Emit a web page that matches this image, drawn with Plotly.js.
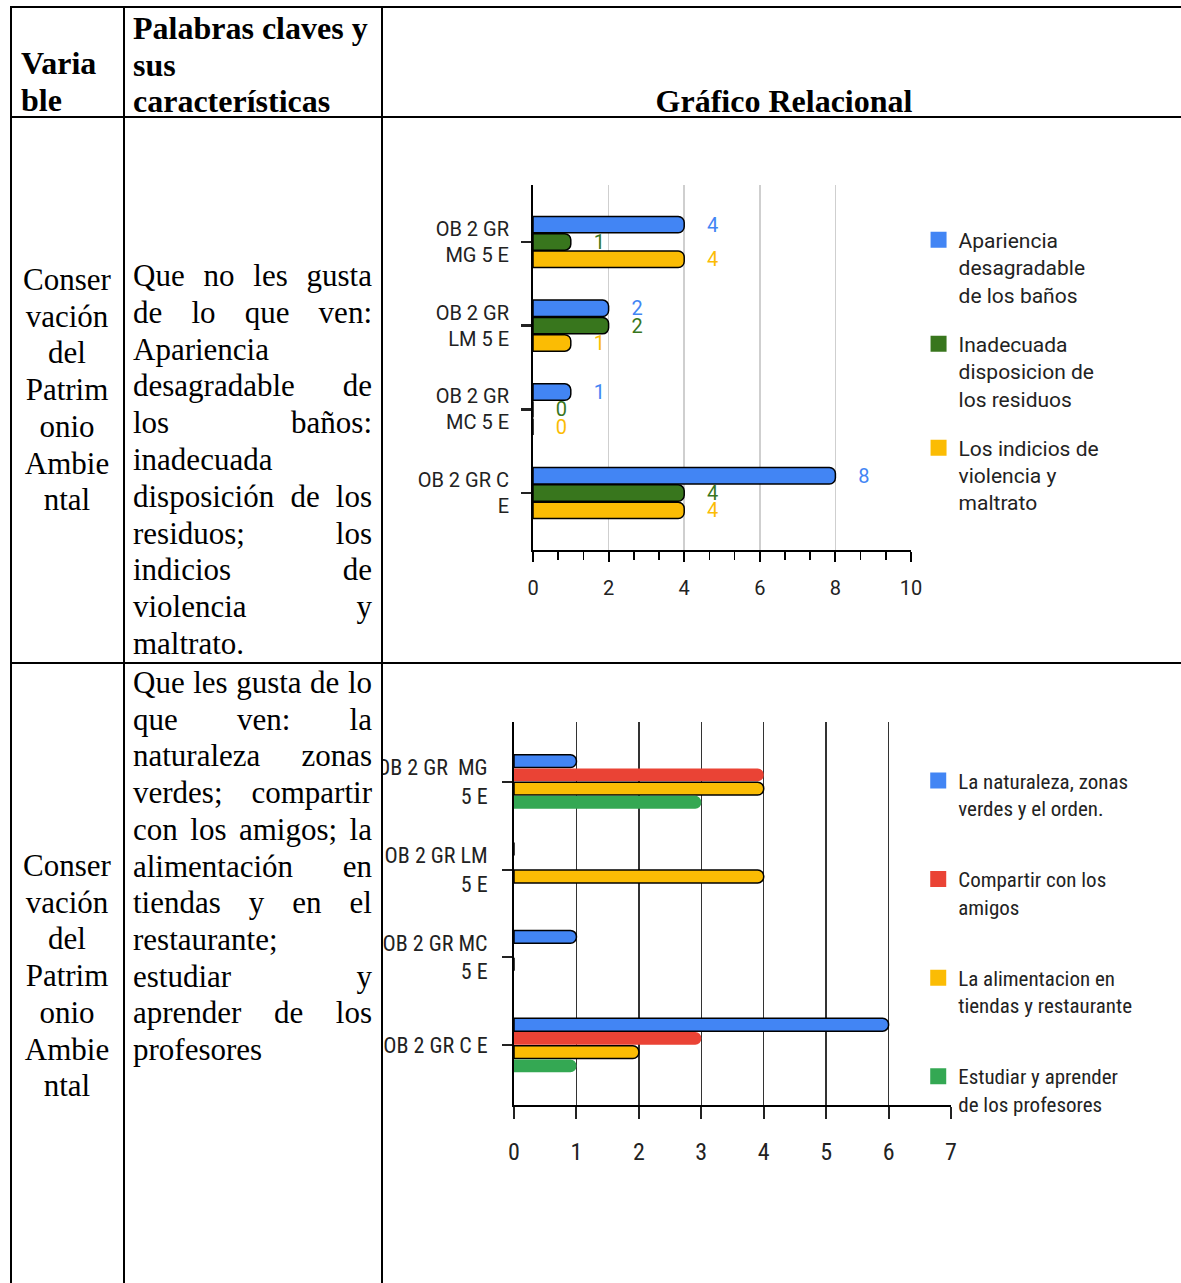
<!DOCTYPE html>
<html><head><meta charset="utf-8">
<script src="https://cdn.plot.ly/plotly-3.0.1.min.js"></script>
<style>
html,body{margin:0;padding:0;background:#fff;}
#page{position:relative;width:1181px;height:1283px;overflow:hidden;background:#fff;}
.ln{position:absolute;background:#000;}
.t{position:absolute;font-family:"Liberation Serif","Times New Roman",serif;font-size:31px;line-height:37px;color:#000;white-space:nowrap;}
.j{text-align:justify;text-align-last:justify;white-space:normal;}
.b{font-weight:bold;font-size:32px;}
.c{text-align:center;}
.ch{position:absolute;}
</style></head>
<body>
<div id="page">
  <div id="c1" class="ch" style="left:383px;top:119px;width:798px;height:543px;"></div>
  <div id="c2" class="ch" style="left:383px;top:665px;width:798px;height:618px;"></div>
</div>
<script>
// ---------- Chart 1 data ----------
const cats1 = ['OB 2 GR<br>MG 5 E', 'OB 2 GR<br>LM 5 E', 'OB 2 GR<br>MC 5 E', 'OB 2 GR C<br>E'];
const apariencia = [4, 2, 1, 8];
const inadecuada = [1, 2, 0, 4];
const indicios = [4, 1, 0, 4];
const names1 = ['Apariencia<br>desagradable<br>de los baños', 'Inadecuada<br>disposicion de<br>los residuos', 'Los indicios de<br>violencia y<br>maltrato'];
const xticks1 = [0, 2, 4, 6, 8, 10];

// ---------- Chart 2 data ----------
const cats2 = ['OB 2 GR  MG<br>5 E', 'OB 2 GR LM<br>5 E', 'OB 2 GR MC<br>5 E', 'OB 2 GR C E'];
const naturaleza = [1, 0, 1, 6];
const compartir = [4, 0, 0, 3];
const alimentacion = [4, 4, 0, 2];
const estudiar = [3, 0, 0, 1];
const names2 = ['La naturaleza, zonas<br>verdes y el orden.', 'Compartir con los<br>amigos', 'La alimentacion en<br>tiendas y restaurante', 'Estudiar y aprender<br>de los profesores'];
const xticks2 = [0, 1, 2, 3, 4, 5, 6, 7];

// ---------- Table text ----------
const headVar = ['Varia', 'ble'];
const headPal = ['Palabras claves y', 'sus', 'características'];
const headGraf = 'Gráfico Relacional';
const varWords = ['Conser', 'vación', 'del', 'Patrim', 'onio', 'Ambie', 'ntal'];
const text1 = [['Que no les gusta', 1], ['de lo que ven:', 1], ['Apariencia', 0], ['desagradable de', 1], ['los baños:', 1], ['inadecuada', 0], ['disposición de los', 1], ['residuos; los', 1], ['indicios de', 1], ['violencia y', 1], ['maltrato.', 0]];
const text2 = [['Que les gusta de lo', 1], ['que ven: la', 1], ['naturaleza zonas', 1], ['verdes; compartir', 1], ['con los amigos; la', 1], ['alimentación en', 1], ['tiendas y en el', 1], ['restaurante;', 0], ['estudiar y', 1], ['aprender de los', 1], ['profesores', 0]];

const page = document.getElementById('page');
function line(x, y, w, h) {
  const d = document.createElement('div');
  d.className = 'ln';
  d.style.left = x + 'px'; d.style.top = y + 'px'; d.style.width = w + 'px'; d.style.height = h + 'px';
  page.insertBefore(d, page.firstChild);
}
function txt(s, left, width, cy, cls) {
  const d = document.createElement('div');
  d.className = 't ' + cls;
  d.textContent = s;
  d.style.left = left + 'px'; d.style.width = width + 'px'; d.style.top = (cy - 20) + 'px';
  page.insertBefore(d, page.firstChild);
}
// borders
line(10, 6, 1171, 2);
line(10, 116, 1171, 2);
line(10, 662, 1171, 2);
line(10, 6, 2, 1277);
line(123, 6, 2, 1277);
line(381, 6, 2, 1277);
// header
txt(headVar[0], 21, 100, 65, 'b');
txt(headVar[1], 21, 100, 102, 'b');
headPal.forEach((s, i) => txt(s, 133, 245, 30 + i * 36.5, 'b'));
txt(headGraf, 385, 798, 103, 'b c');
// rows
varWords.forEach((s, i) => txt(s, 13, 108, 281 + i * 36.7, 'c'));
varWords.forEach((s, i) => txt(s, 13, 108, 867 + i * 36.7, 'c'));
text1.forEach((p, i) => txt(p[0], 133, 239, 277 + i * 36.8, p[1] ? 'j' : ''));
text2.forEach((p, i) => txt(p[0], 133, 239, 684 + i * 36.7, p[1] ? 'j' : ''));

// ---------- Chart 1 ----------
const col1 = ['#4285F4', '#38761D', '#FBBC04'];
const vals1 = [apariencia, inadecuada, indicios];
const nb = '\u00a0\u00a0\u00a0\u00a0';
const traces1 = [];
vals1.forEach((v, i) => {
  traces1.push({
    type: 'bar', orientation: 'h', y: cats1, x: v, name: names1[i], showlegend: false,
    marker: {color: col1[i], line: {color: '#000', width: 1.5}, cornerradius: 6},
    text: v.map(String), texttemplate: nb + '%{x}', textposition: 'outside', cliponaxis: false,
    constraintext: 'none', textfont: {color: col1[i], size: 20, family: 'Roboto'}, hoverinfo: 'skip'
  });
});
vals1.forEach((v, i) => {
  traces1.push({
    type: 'scatter', mode: 'markers', x: [null], y: [null], name: names1[i], legendgroup: 'g' + i,
    marker: {symbol: 'square', size: 16, color: col1[i]}, showlegend: true
  });
});
const minorTicks = {dtick: 2 / 3, tick0: 0, ticklen: 8, tickwidth: 1.5, tickcolor: '#000', showgrid: false};
const layout1 = {
  width: 798, height: 543,
  margin: {l: 150, r: 270, t: 66, b: 112, pad: 0},
  paper_bgcolor: 'rgba(0,0,0,0)', plot_bgcolor: 'rgba(0,0,0,0)',
  barmode: 'group', bargap: 0.38, bargroupgap: 0.05,
  font: {family: 'Roboto', size: 20, color: '#222'},
  showlegend: true,
  xaxis: {range: [0, 10], tickmode: 'array', tickvals: xticks1, showgrid: true, gridcolor: '#cfcfcf', gridwidth: 1.5,
    zeroline: false, showline: true, linecolor: '#000', linewidth: 2, ticks: 'outside', ticklen: 10, tickwidth: 2,
    tickcolor: '#000', ticklabelstandoff: 9, minor: Object.assign({ticks: 'outside'}, minorTicks), fixedrange: true},
  xaxis2: {overlaying: 'x', anchor: 'y', side: 'bottom', range: [0, 10], tickmode: 'array', tickvals: xticks1,
    showgrid: false, zeroline: false, showline: false, ticks: 'inside', ticklen: 10, tickwidth: 2, tickcolor: '#000',
    showticklabels: false, minor: Object.assign({ticks: 'inside'}, minorTicks), fixedrange: true},
  yaxis: {type: 'category', range: [3.68, -0.68], showgrid: false, zeroline: false, showline: true, linecolor: '#000',
    linewidth: 2, ticks: 'outside', ticklen: 10, tickwidth: 2.5, tickcolor: '#222', ticklabelstandoff: 8, fixedrange: true},
  legend: {x: 1.02, xanchor: 'left', y: 0.905, yanchor: 'top', valign: 'top', tracegroupgap: 19,
    bgcolor: 'rgba(0,0,0,0)', font: {family: 'Roboto', size: 21, color: '#222'}}
};
Plotly.newPlot('c1', traces1, layout1, {staticPlot: true, displayModeBar: false});

// ---------- Chart 2 ----------
const col2 = ['#4285F4', '#EA4335', '#FBBC04', '#34A853'];
const vals2 = [naturaleza, compartir, alimentacion, estudiar];
const outl2 = [1.5, 0, 1.5, 0];
const narrow = '"Liberation Sans Narrow", "Roboto Condensed", "DejaVu Sans Condensed", "Arial Narrow", Roboto, sans-serif';
const traces2 = [];
vals2.forEach((v, i) => {
  traces2.push({
    type: 'bar', orientation: 'h', y: cats2, x: v, name: names2[i], showlegend: false,
    marker: {color: col2[i], line: {color: '#000', width: outl2[i]}, cornerradius: 6}, hoverinfo: 'skip'
  });
});
vals2.forEach((v, i) => {
  traces2.push({
    type: 'scatter', mode: 'markers', x: [null], y: [null], name: names2[i], legendgroup: 'h' + i,
    marker: {symbol: 'square', size: 16, color: col2[i]}, showlegend: true
  });
});
const layout2 = {
  width: 798, height: 618,
  margin: {l: 131, r: 230, t: 57, b: 178, pad: 0},
  paper_bgcolor: 'rgba(0,0,0,0)', plot_bgcolor: 'rgba(0,0,0,0)',
  barmode: 'group', bargap: 0.375, bargroupgap: 0.06,
  font: {family: narrow, size: 24, color: '#222'},
  showlegend: true,
  xaxis: {range: [0, 7], tickmode: 'array', tickvals: xticks2, showgrid: true, gridcolor: '#333', gridwidth: 1.3,
    zeroline: false, showline: true, linecolor: '#000', linewidth: 2, ticks: 'outside', ticklen: 12, tickwidth: 2,
    tickcolor: '#222', ticklabelstandoff: 12, fixedrange: true},
  yaxis: {type: 'category', range: [3.68, -0.68], showgrid: false, zeroline: false, showline: true, linecolor: '#000',
    linewidth: 2, ticks: 'outside', ticklen: 10, tickwidth: 2, tickcolor: '#222', ticklabelstandoff: 10,
    tickfont: {family: narrow, size: 22, color: '#222'}, fixedrange: true},
  legend: {x: 0.925, xanchor: 'left', y: 0.9, yanchor: 'top', valign: 'top', tracegroupgap: 41,
    bgcolor: 'rgba(0,0,0,0)', font: {family: narrow, size: 21, color: '#222'}}
};
Plotly.newPlot('c2', traces2, layout2, {staticPlot: true, displayModeBar: false});
</script>
</body></html>
